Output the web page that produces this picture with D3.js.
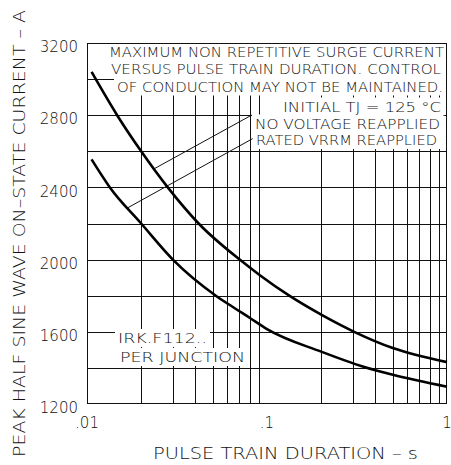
<!DOCTYPE html>
<html>
<head>
<meta charset="utf-8">
<script src="https://cdn.jsdelivr.net/npm/d3@7"></script>
<style>
  html, body { margin: 0; padding: 0; background: #fff; }
  svg text { font-family: "DejaVu Sans", "Liberation Sans", sans-serif; font-weight: 200; fill: #111; }
</style>
</head>
<body>
<div id="chart"></div>
<script>
// Surge current vs pulse train duration, two curves.
const noVoltageT = [0.0106, 0.0147, 0.02, 0.0281, 0.0417, 0.0705, 0.0909, 0.133, 0.2, 0.305, 0.5, 1];
const noVoltageI = [3040, 2800, 2600, 2400, 2200, 2000, 1915, 1800, 1695, 1600, 1510, 1432];
const ratedT = [0.0106, 0.0134, 0.02, 0.03, 0.052, 0.064, 0.08, 0.1, 0.2, 0.347, 0.5, 1];
const ratedI = [2555, 2400, 2200, 2000, 1800, 1740, 1678, 1615, 1490, 1405, 1362, 1296];

const xTicks = [0.01, 0.1, 1];
const xTickLabels = [".01", ".1", "1"];
const yTicks = [1200, 1600, 2000, 2400, 2800, 3200];
const yGrid = [1400, 1600, 1800, 2000, 2200, 2400, 2600, 2800, 3000];

// leader lines: [curve point t, I] -> [label point t, I]
const leaderNoVoltage = [[0.0238, 2505], [0.082, 2800]];
const leaderRated = [[0.0167, 2285], [0.0832, 2670]];

const titleLines = [
  "MAXIMUM NON REPETITIVE SURGE CURRENT",
  "VERSUS PULSE TRAIN DURATION. CONTROL",
  "OF CONDUCTION MAY NOT BE MAINTAINED.",
  "INITIAL TJ = 125 °C",
  "NO VOLTAGE REAPPLIED",
  "RATED VRRM REAPPLIED"
];
const deviceLines = ["IRK.F112..", "PER JUNCTION"];

const W = 451, H = 465;
const margin = { top: 43, right: 4, bottom: 61, left: 87 };
const iw = W - margin.left - margin.right, ih = H - margin.top - margin.bottom;

const svg = d3.select("#chart").append("svg").attr("width", W).attr("height", H);
const g = svg.append("g").attr("transform", `translate(${margin.left},${margin.top})`);

const x = d3.scaleLog().domain([0.01, 1]).range([0, iw]);
const y = d3.scaleLinear().domain([1200, 3200]).range([ih, 0]);
const px = (v) => Math.round(v) + 0.5;

// grid
const minor = [];
for (const dec of [0.01, 0.1]) for (let k = 2; k <= 9; k++) minor.push(+(dec * k).toPrecision(3));
g.append("g").selectAll("line").data(minor).join("line")
  .attr("x1", (d) => px(x(d))).attr("x2", (d) => px(x(d))).attr("y1", 0).attr("y2", ih)
  .attr("stroke", "#111").attr("stroke-width", 1);
g.append("g").selectAll("line").data(yGrid).join("line")
  .attr("x1", 0).attr("x2", iw).attr("y1", (d) => px(y(d))).attr("y2", (d) => px(y(d)))
  .attr("stroke", "#111").attr("stroke-width", 1);

// annotation texts with white knock-outs behind them
const maskLayer = g.append("g");
const textLayer = g.append("g");
function note(str, xs, yb, len, size) {
  const t = textLayer.append("text").attr("x", xs - margin.left).attr("y", yb - margin.top)
    .attr("font-size", size).attr("textLength", len).attr("lengthAdjust", "spacingAndGlyphs").text(str);
  const b = t.node().getBBox();
  maskLayer.append("rect").attr("x", b.x - 3).attr("y", b.y - 1).attr("width", b.width + 6).attr("height", b.height + 2)
    .attr("fill", "#fff");
}
note(titleLines[0], 109, 57, 335, 14.5);
note(titleLines[1], 111, 74, 330, 14.5);
note(titleLines[2], 117, 91.5, 326, 14.5);
note(titleLines[3], 283, 111.5, 158, 14);
note(titleLines[4], 255, 128.5, 185, 14);
note(titleLines[5], 256, 145, 181, 14);
note(deviceLines[0], 118, 343, 89, 14.5);
note(deviceLines[1], 120, 362, 125, 14.5);

// border
g.append("rect").attr("x", 0.5).attr("y", 0.5).attr("width", iw - 1).attr("height", ih - 1)
  .attr("fill", "none").attr("stroke", "#111").attr("stroke-width", 1);

// leader lines
for (const seg of [leaderNoVoltage, leaderRated]) {
  g.append("line").attr("x1", x(seg[0][0])).attr("y1", y(seg[0][1]))
    .attr("x2", x(seg[1][0])).attr("y2", y(seg[1][1]))
    .attr("stroke", "#111").attr("stroke-width", 1);
}

// curves
const line = d3.line().x((d) => x(d[0])).y((d) => y(d[1])).curve(d3.curveMonotoneX);
for (const [ts, is] of [[noVoltageT, noVoltageI], [ratedT, ratedI]]) {
  g.append("path").datum(ts.map((t, i) => [t, is[i]]))
    .attr("fill", "none").attr("stroke", "#000").attr("stroke-width", 2.6).attr("d", line);
}

// tick labels
g.append("g").selectAll("text").data(yTicks).join("text")
  .attr("x", -9).attr("y", (d) => y(d) + 4).attr("dy", "0.35em").attr("text-anchor", "end")
  .attr("font-size", 15).text((d) => d);
g.append("g").selectAll("text").data(xTicks).join("text")
  .attr("x", (d) => x(d)).attr("y", ih + 24).attr("text-anchor", "middle")
  .attr("font-size", 15).text((d, i) => xTickLabels[i]);

// axis titles
svg.append("text").attr("x", 153).attr("y", 459).attr("font-size", 15)
  .attr("textLength", 265).attr("lengthAdjust", "spacingAndGlyphs").text("PULSE TRAIN DURATION – s");
svg.append("text").attr("transform", "translate(25,457) rotate(-90)").attr("font-size", 15)
  .attr("textLength", 447).attr("lengthAdjust", "spacingAndGlyphs").text("PEAK HALF SINE WAVE ON–STATE CURRENT – A");
</script>
</body>
</html>
